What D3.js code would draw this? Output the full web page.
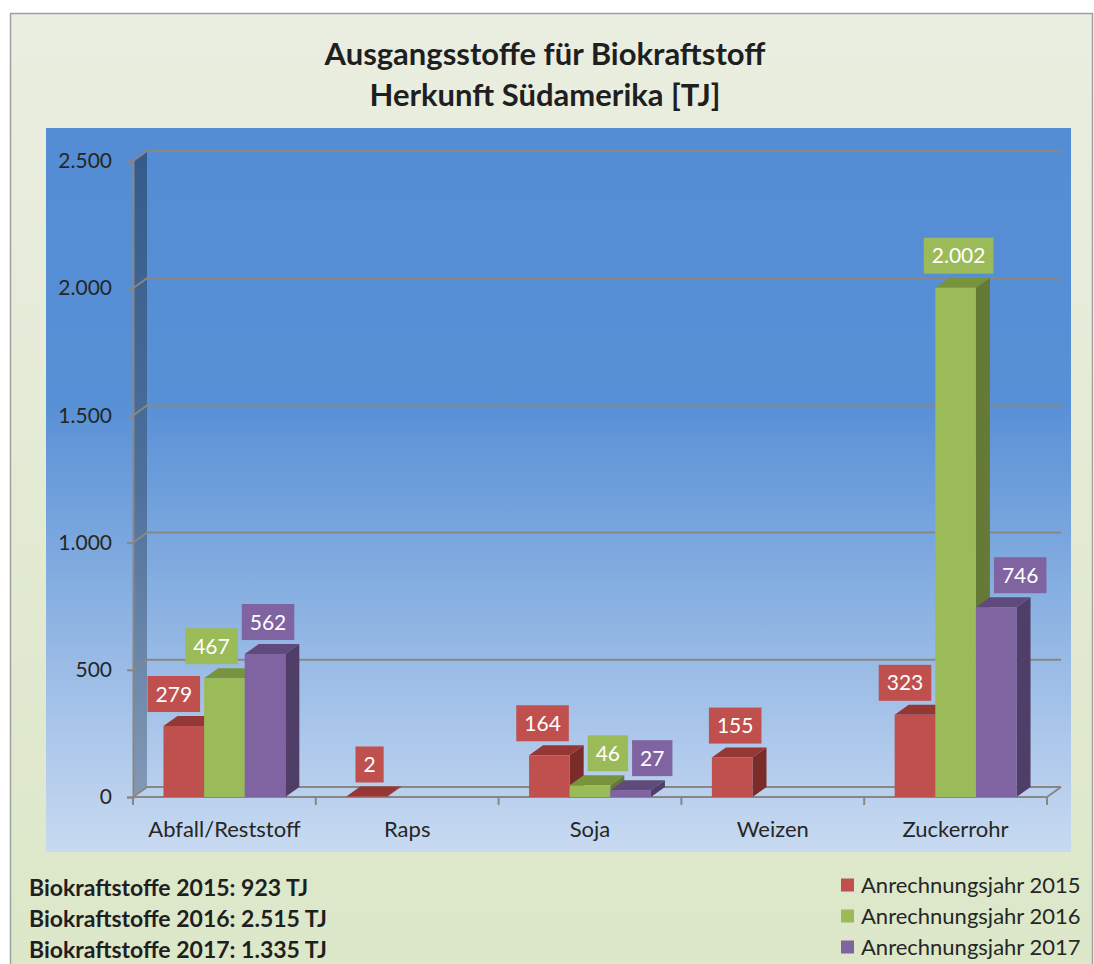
<!DOCTYPE html>
<html>
<head>
<meta charset="utf-8">
<script src="https://cdn.jsdelivr.net/npm/d3@7"></script>
<style>
    body { margin: 0; background: #ffffff; }
    text { font-family: Lato, "Open Sans", sans-serif; }
</style>
</head>
<body>
<script>
// Chart data
const categories = ["Abfall/Reststoff", "Raps", "Soja", "Weizen", "Zuckerrohr"];
const seriesNames = ["Anrechnungsjahr 2015", "Anrechnungsjahr 2016", "Anrechnungsjahr 2017"];
const years = ["2015", "2016", "2017"];
const values2015 = [279, 2, 164, 155, 323];
const values2016 = [467, 0, 46, 0, 2002];
const values2017 = [562, 0, 27, 0, 746];
const yTicks = [0, 500, 1000, 1500, 2000, 2500];
const titleLines = ["Ausgangsstoffe für Biokraftstoff", "Herkunft Südamerika [TJ]"];

const seriesValues = [values2015, values2016, values2017];

// front, top, side shades for each series
const colours = [
    {front: "#c0504d", top: "#953735", side: "#7b2c2a"},
    {front: "#9bbb59", top: "#77933c", side: "#647a36"},
    {front: "#8064a2", top: "#604a7b", side: "#4f3e67"}
];

const width = 1094, height = 964;

// 3D depth offset of the bars and walls
const depthX = 14, depthY = -10;

// German number format: 2.500
const de = d3.formatLocale({decimal: ",", thousands: ".", grouping: [3], currency: ["", " €"]});
const fmt = de.format(",d");

const svg = d3.select("body").append("svg")
    .attr("width", width)
    .attr("height", height);

const defs = svg.append("defs");

const outerGrad = defs.append("linearGradient").attr("id", "outerGrad")
    .attr("x1", 0).attr("y1", 0).attr("x2", 0).attr("y2", 1);
outerGrad.append("stop").attr("offset", 0).attr("stop-color", "#eaeee0");
outerGrad.append("stop").attr("offset", 1).attr("stop-color", "#dce7c8");

const plotGrad = defs.append("linearGradient").attr("id", "plotGrad")
    .attr("x1", 0).attr("y1", 0).attr("x2", 0).attr("y2", 1);
plotGrad.append("stop").attr("offset", 0).attr("stop-color", "#548dd4");
plotGrad.append("stop").attr("offset", 0.38).attr("stop-color", "#5890d6");
plotGrad.append("stop").attr("offset", 1).attr("stop-color", "#c8daf1");

const wallGrad = defs.append("linearGradient").attr("id", "wallGrad")
    .attr("x1", 0).attr("y1", 0).attr("x2", 0).attr("y2", 1);
wallGrad.append("stop").attr("offset", 0).attr("stop-color", "#345b8b");
wallGrad.append("stop").attr("offset", 0.5).attr("stop-color", "#4c6f9b");
wallGrad.append("stop").attr("offset", 1).attr("stop-color", "#8299b6");

// Outer chart area and plot area
svg.append("rect")
    .attr("x", 10.5).attr("y", 13.5)
    .attr("width", 1082).attr("height", 970)
    .attr("fill", "url(#outerGrad)")
    .attr("stroke", "#a0a0a0")
    .attr("stroke-width", 1.5);

svg.append("rect")
    .attr("x", 46).attr("y", 128)
    .attr("width", 1025).attr("height", 724)
    .attr("fill", "url(#plotGrad)");

// Title
svg.append("g").selectAll("text")
    .data(titleLines)
    .join("text")
    .attr("x", 545)
    .attr("y", (d, i) => 65 + i * 41)
    .attr("text-anchor", "middle")
    .attr("font-size", 31)
    .attr("font-weight", "bold")
    .attr("fill", "#1f1f1f")
    .text(d => d);

// Scales
const x = d3.scaleBand().domain(categories).range([133, 1047]);
const xSeries = d3.scaleBand().domain(years).range([0, x.bandwidth()]).paddingInner(0).paddingOuter(0.75);
const y = d3.scaleLinear().domain([0, 2500]).range([797, 161]);

const [xLeft, xRight] = x.range();
const yBase = y(0);

// Left side wall
svg.append("path")
    .attr("d", `M${xLeft},${y(2500)} L${xLeft + depthX},${y(2500) + depthY} L${xLeft + depthX},${yBase + depthY} L${xLeft},${yBase} Z`)
    .attr("fill", "url(#wallGrad)");

// Gridlines on the back wall and across the side wall
const grid = svg.append("g")
    .attr("stroke", "#878787")
    .attr("stroke-width", 2)
    .attr("fill", "none");

grid.selectAll("path")
    .data(yTicks)
    .join("path")
    .attr("d", v => `M${xLeft},${y(v)} L${xLeft + depthX},${y(v) + depthY} L${xRight + depthX},${y(v) + depthY}`);

// Floor front edge and right edge
grid.append("path")
    .attr("d", `M${xLeft},${yBase} L${xRight},${yBase} L${xRight + depthX},${yBase + depthY}`);

// Y axis
const yAxis = d3.axisLeft(y)
    .tickValues(yTicks)
    .tickFormat(fmt)
    .tickSize(6)
    .tickPadding(15);

const yAxisG = svg.append("g")
    .attr("transform", `translate(${xLeft},0)`)
    .call(yAxis);
yAxisG.select(".domain").attr("stroke", "#878787").attr("stroke-width", 2);
yAxisG.selectAll(".tick line").attr("stroke", "#878787").attr("stroke-width", 2);
yAxisG.selectAll(".tick text")
    .attr("font-size", 21)
    .attr("font-family", "Lato, sans-serif")
    .attr("fill", "#262626");

// X axis labels, ticks sit between the categories
const xAxis = d3.axisBottom(x).tickSize(0).tickPadding(24);
const xAxisG = svg.append("g")
    .attr("transform", `translate(0,${yBase})`)
    .call(xAxis);
xAxisG.select(".domain").remove();
xAxisG.selectAll(".tick text")
    .attr("font-size", 22)
    .attr("font-family", "Lato, sans-serif")
    .attr("fill", "#262626");

svg.append("g").selectAll("line")
    .data(categories.map(c => x(c)).concat([xRight]))
    .join("line")
    .attr("x1", d => d).attr("x2", d => d)
    .attr("y1", yBase).attr("y2", yBase + 8)
    .attr("stroke", "#878787")
    .attr("stroke-width", 2);

// Bars: one entry per non-zero value
const bars = [];
categories.forEach((c, ci) => {
    seriesValues.forEach((vals, si) => {
        if (vals[ci] > 0) {
            const x0 = x(c) + xSeries(years[si]);
            const w = xSeries.bandwidth();
            const yT = y(vals[ci]);
            // bounding box of the whole 3D bar, used to keep labels off it
            bars.push({category: c, ci: ci, si: si, value: vals[ci], x0: x0, w: w, yT: yT,
                box: {x1: x0, x2: x0 + w + depthX, y1: yT + depthY, y2: yBase}});
        }
    });
});

const barG = svg.append("g");

bars.forEach(b => {
    const col = colours[b.si];
    const g = barG.append("g");
    const {x0, w, yT} = b;

    g.append("path")
        .attr("d", `M${x0 + w},${yT} L${x0 + w + depthX},${yT + depthY} L${x0 + w + depthX},${yBase + depthY} L${x0 + w},${yBase} Z`)
        .attr("fill", col.side);

    g.append("path")
        .attr("d", `M${x0},${yT} L${x0 + depthX},${yT + depthY} L${x0 + w + depthX},${yT + depthY} L${x0 + w},${yT} Z`)
        .attr("fill", col.top);

    g.append("rect")
        .attr("x", x0).attr("y", yT)
        .attr("width", w).attr("height", yBase - yT)
        .attr("fill", col.front);
});

// Data labels in coloured boxes
const labelG = svg.append("g");
const labels = bars.map(b => {
    const g = labelG.append("g");
    const t = g.append("text")
        .attr("text-anchor", "middle")
        .attr("font-size", 21)
        .attr("fill", "#ffffff")
        .text(fmt(b.value));
    const tw = t.node().getComputedTextLength();
    const boxW = tw + 16, boxH = 36;
    const cx = b.x0 + b.w / 2 + 3;
    const bottom = b.yT + depthY - 4;
    return {b: b, g: g, t: t, w: boxW, h: boxH, cx: cx, top: bottom - boxH};
});

// Keep each label off the neighbouring labels and bars of its category
// (bars are checked last so they win)
const gap = 4;
const overlaps = (l, o) =>
    l.top < o.y2 && o.y1 < l.top + l.h &&
    l.cx - l.w / 2 < o.x2 + gap && o.x1 - gap < l.cx + l.w / 2;

categories.forEach(c => {
    const group = labels.filter(l => l.b.category === c);
    group.forEach(l => {
        const obstacles = group.filter(o => o !== l)
            .map(o => ({x1: o.cx - o.w / 2, x2: o.cx + o.w / 2, y1: o.top, y2: o.top + o.h}))
            .concat(bars.filter(b => b.category === c && b !== l.b).map(b => b.box));
        obstacles.forEach(o => {
            if (overlaps(l, o)) {
                if ((o.x1 + o.x2) / 2 > l.cx) {
                    l.cx = o.x1 - gap - l.w / 2;
                } else {
                    l.cx = o.x2 + gap + l.w / 2;
                }
            }
        });
    });
});

labels.forEach(l => {
    l.g.insert("rect", "text")
        .attr("x", l.cx - l.w / 2).attr("y", l.top)
        .attr("width", l.w).attr("height", l.h)
        .attr("fill", colours[l.b.si].front);
    l.t.attr("x", l.cx).attr("y", l.top + l.h / 2 + 7.5);
});

// Totals per year, bottom left
const totals = seriesValues.map(vals => d3.sum(vals));
svg.append("g").selectAll("text")
    .data(totals)
    .join("text")
    .attr("x", 29)
    .attr("y", (d, i) => 896 + i * 31)
    .attr("font-size", 23)
    .attr("font-weight", "bold")
    .attr("fill", "#1f1f1f")
    .text((d, i) => `Biokraftstoffe ${years[i]}: ${fmt(d)} TJ`);

// Legend
const legend = svg.append("g").selectAll("g")
    .data(seriesNames)
    .join("g")
    .attr("transform", (d, i) => `translate(841,${885 + i * 31})`);

legend.append("rect")
    .attr("x", 0).attr("y", -6.5)
    .attr("width", 13).attr("height", 13)
    .attr("fill", (d, i) => colours[i].front);

legend.append("text")
    .attr("x", 20).attr("y", 7.5)
    .attr("font-size", 22)
    .attr("fill", "#262626")
    .text(d => d);
</script>
</body>
</html>
